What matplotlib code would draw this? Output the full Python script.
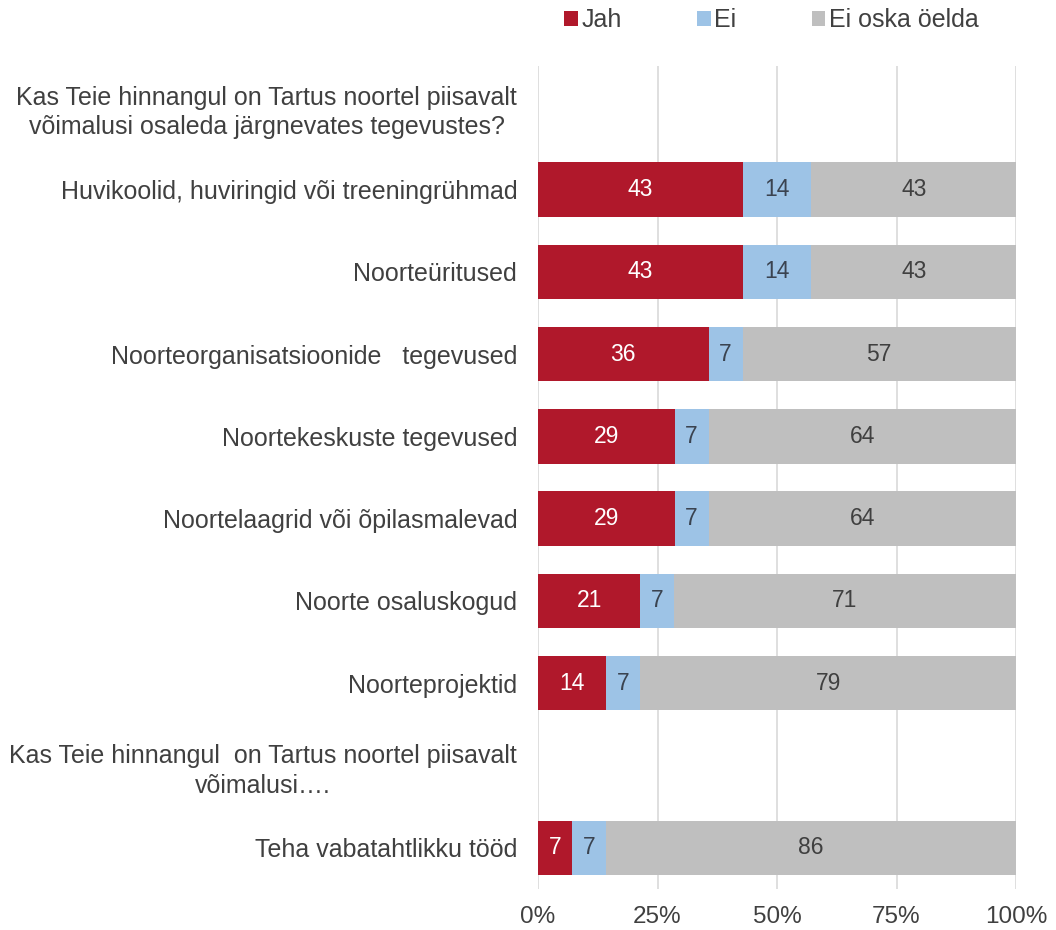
import numpy as np
import matplotlib
matplotlib.use("Agg")
import matplotlib.pyplot as plt

plt.rcParams['font.family'] = ['Liberation Sans', 'DejaVu Sans']

categories = [
    "Kas Teie hinnangul on Tartus noortel piisavalt\nvõimalusi osaleda järgnevates tegevustes?",
    "Huvikoolid, huviringid või treeningrühmad",
    "Noorteüritused",
    "Noorteorganisatsioonide   tegevused",
    "Noortekeskuste tegevused",
    "Noortelaagrid või õpilasmalevad",
    "Noorte osaluskogud",
    "Noorteprojektid",
    "Kas Teie hinnangul  on Tartus noortel piisavalt\nvõimalusi….",
    "Teha vabatahtlikku tööd",
]
jah = [np.nan, 42.9, 42.9, 35.7, 28.6, 28.6, 21.4, 14.3, np.nan, 7.1]
ei = [np.nan, 14.3, 14.3, 7.1, 7.1, 7.1, 7.1, 7.1, np.nan, 7.1]
ei_oska = [np.nan, 42.9, 42.9, 57.1, 64.3, 64.3, 71.4, 78.6, np.nan, 85.7]
series_names = ["Jah", "Ei", "Ei oska öelda"]
xticks = [0, 25, 50, 75, 100]
xticklabels = ["0%", "25%", "50%", "75%", "100%"]

colors = ["#B0182B", "#9DC3E6", "#BFBFBF"]
text_colors = ["white", "#3A4350", "#404040"]
label_color = "#404040"

fig = plt.figure(figsize=(10.56, 9.3), dpi=100)
ax = fig.add_axes([538/1056, 1-889/930, (1016-538)/1056, (889-66)/930])

y = np.arange(len(categories))
left = np.zeros(len(categories))
for vals, name, c, tc in zip([jah, ei, ei_oska], series_names, colors, text_colors):
    v = np.array(vals, dtype=float)
    vv = np.nan_to_num(v)
    ax.barh(y, vv, left=left, height=0.66, color=c, label=name, zorder=2)
    for i, val in enumerate(v):
        if not np.isnan(val):
            ax.text(left[i] + val/2, y[i], f"{val:.0f}", ha='center', va='center',
                    color=tc, fontsize=16.5, zorder=3)
    left = left + vv

ax.set_xlim(0, 100)
ax.set_ylim(len(categories)-0.5, -0.5)
ax.set_yticks(y)
ax.set_yticklabels(categories, fontsize=18, color=label_color,
                   multialignment='center', linespacing=1.3)
ax.set_xticks(xticks)
ax.set_xticklabels(xticklabels, fontsize=17.5, color=label_color)
ax.tick_params(axis='both', length=0)
ax.tick_params(axis='y', pad=15)
ax.tick_params(axis='x', pad=12)
for s in ax.spines.values():
    s.set_visible(False)
ax.xaxis.grid(True, color="#D9D9D9", linewidth=1.2, zorder=0)
ax.set_axisbelow(True)

leg = fig.legend(loc='center left', bbox_to_anchor=(564/1056, 1-20/930), ncol=3,
                 frameon=False, fontsize=18, handlelength=0.55, handleheight=0.55,
                 handletextpad=0.15, columnspacing=3.0, labelcolor=label_color,
                 borderaxespad=0, borderpad=0)

fig.savefig("out.png", dpi=100)
